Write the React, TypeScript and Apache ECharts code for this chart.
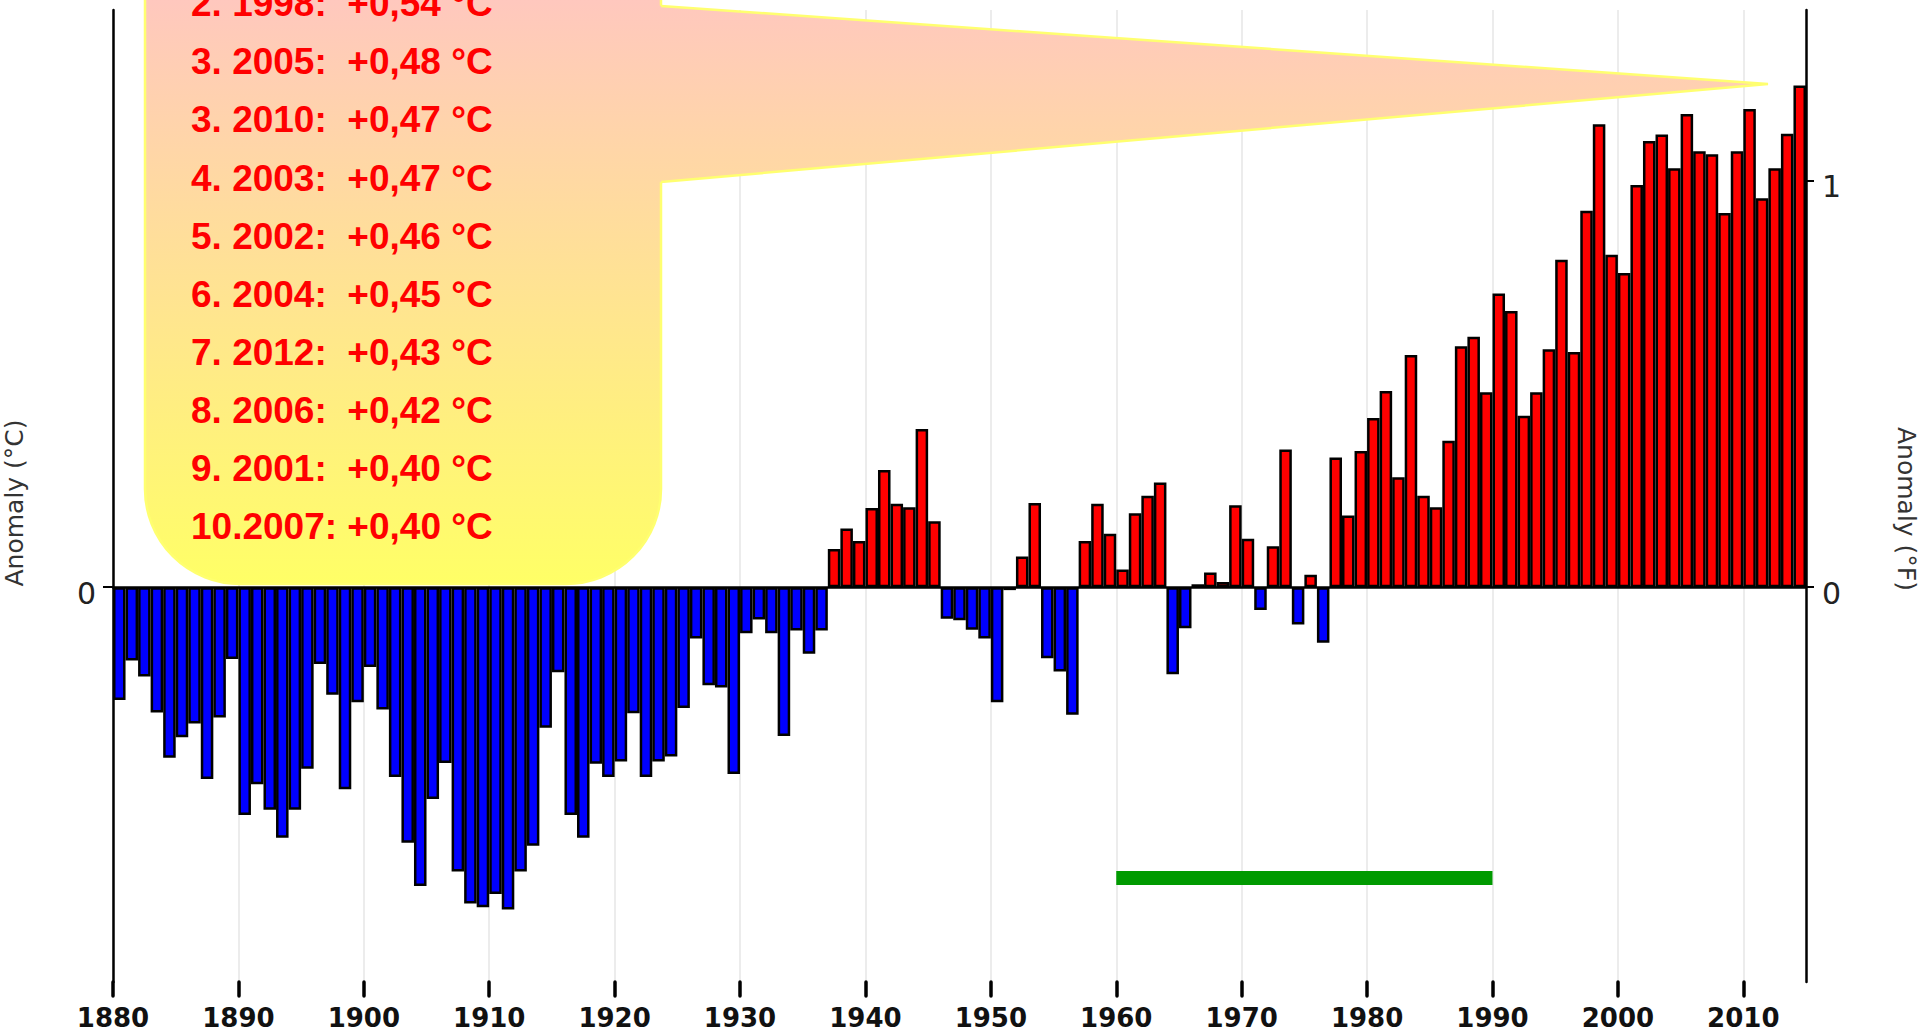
import React, { useEffect, useRef } from 'react';
import * as echarts from 'echarts';

// ---- data ----
const startYear = 1880;
// annual temperature anomaly (°C), 1880 … 2014
const anomalies: number[] = [
  -0.154, -0.100, -0.122, -0.171, -0.233, -0.205, -0.186, -0.262, -0.178, -0.098,
  -0.311, -0.269, -0.304, -0.342, -0.304, -0.248, -0.105, -0.147, -0.276, -0.157,
  -0.109, -0.167, -0.259, -0.349, -0.408, -0.289, -0.240, -0.388, -0.432, -0.437,
  -0.419, -0.440, -0.388, -0.353, -0.192, -0.116, -0.311, -0.342, -0.241, -0.259,
  -0.238, -0.172, -0.259, -0.238, -0.231, -0.165, -0.070, -0.134, -0.137, -0.255,
  -0.063, -0.044, -0.063, -0.203, -0.059, -0.091, -0.059, 0.052, 0.080, 0.063,
  0.108, 0.160, 0.114, 0.109, 0.216, 0.090, -0.043, -0.045, -0.058, -0.070,
  -0.157, -0.004, 0.042, 0.115, -0.097, -0.115, -0.174, 0.063, 0.114, 0.073,
  0.024, 0.101, 0.125, 0.143, -0.119, -0.056, 0.004, 0.020, 0.007, 0.112,
  0.066, -0.031, 0.056, 0.188, -0.051, 0.017, -0.076, 0.177, 0.098, 0.186,
  0.231, 0.268, 0.150, 0.317, 0.125, 0.109, 0.200, 0.329, 0.342, 0.266,
  0.401, 0.377, 0.234, 0.266, 0.325, 0.447, 0.321, 0.514, 0.632, 0.454,
  0.429, 0.549, 0.609, 0.618, 0.572, 0.646, 0.595, 0.591, 0.511, 0.595,
  0.653, 0.531, 0.572, 0.619, 0.685,
];
const years: string[] = anomalies.map((_, i) => String(startYear + i));
const decadeTicks: number[] = [1880, 1890, 1900, 1910, 1920, 1930, 1940, 1950, 1960, 1970, 1980, 1990, 2000, 2010];
const celsiusTicks: number[] = [0];
const fahrenheitTicks: number[] = [0, 1];
const basePeriod: number[] = [1960, 1990];
const basePeriodLevel = -0.397;
const rankings: string[] = [
  '2. 1998:  +0,54 °C',
  '3. 2005:  +0,48 °C',
  '3. 2010:  +0,47 °C',
  '4. 2003:  +0,47 °C',
  '5. 2002:  +0,46 °C',
  '6. 2004:  +0,45 °C',
  '7. 2012:  +0,43 °C',
  '8. 2006:  +0,42 °C',
  '9. 2001:  +0,40 °C',
  '10.2007: +0,40 °C',
];

const C_MIN = -0.539;
const C_MAX = 0.788;

export default function App() {
  const ref = useRef<HTMLDivElement>(null);
  useEffect(() => {
    if (!ref.current) return;
    const chart = echarts.init(ref.current, undefined, { renderer: 'svg' });

    const grad = () =>
      new echarts.graphic.LinearGradient(0, -40, 0, 584, [
        { offset: 0, color: '#FFC4C4' },
        { offset: 1, color: '#FFFF66' },
      ], true);

    const textEls = rankings.map((t, i) => ({
      type: 'text',
      x: 191,
      y: 3.7 + i * 58.1,
      z: 30,
      style: {
        text: t,
        fill: '#FF0000',
        font: 'bold 37px "Liberation Sans", Arial, sans-serif',
        textAlign: 'left',
        textVerticalAlign: 'middle',
      },
    }));

    const yLabel = {
      fontFamily: 'DejaVu Sans',
      fontSize: 30,
      color: '#222',
      verticalAlign: 'top',
      lineHeight: 12,
    };

    const option: any = {
      animation: false,
      backgroundColor: '#ffffff',
      grid: { left: 113, right: 114, top: 10, bottom: 51, containLabel: false },
      xAxis: [
        {
          type: 'category',
          data: years,
          position: 'top',
          boundaryGap: true,
          axisLine: { show: true, onZero: true, lineStyle: { color: '#000', width: 2.5 } },
          axisTick: { show: false },
          axisLabel: { show: false },
          splitLine: { show: false },
          z: 5,
        },
        {
          type: 'value',
          min: 1880,
          max: 2015,
          interval: 10,
          position: 'bottom',
          axisLine: { show: false, onZero: false },
          axisTick: {
            show: true,
            length: 14,
            customValues: decadeTicks,
            lineStyle: { color: '#000', width: 3.5, cap: 'round' },
          },
          axisLabel: {
            show: true,
            customValues: decadeTicks,
            margin: 23,
            fontFamily: 'DejaVu Sans',
            fontWeight: 'bold',
            fontSize: 26,
            color: '#111',
            formatter: (v: number) => String(v),
          },
          splitLine: { show: true, lineStyle: { color: '#e6e6e6', width: 1.5 } },
        },
      ],
      yAxis: [
        {
          type: 'value',
          min: C_MIN,
          max: C_MAX,
          position: 'left',
          axisLine: { show: true, lineStyle: { color: '#000', width: 2.5 } },
          axisTick: { show: true, length: 10, customValues: celsiusTicks, lineStyle: { color: '#000', width: 2 } },
          axisLabel: { customValues: celsiusTicks, margin: 17, ...yLabel },
          splitLine: { show: false },
        },
        {
          type: 'value',
          min: C_MIN * 1.8,
          max: C_MAX * 1.8,
          position: 'right',
          axisLine: { show: true, lineStyle: { color: '#000', width: 2.5 } },
          axisTick: { show: true, length: 8, customValues: fahrenheitTicks, lineStyle: { color: '#000', width: 2 } },
          axisLabel: { customValues: fahrenheitTicks, margin: 16, ...yLabel },
          splitLine: { show: false },
        },
      ],
      series: [
        {
          type: 'bar',
          xAxisIndex: 0,
          yAxisIndex: 0,
          data: anomalies,
          barWidth: '100%',
          barCategoryGap: '0%',
          itemStyle: {
            color: (p: any) => (p.value >= 0 ? '#FF0000' : '#0000FF'),
            borderColor: '#000',
            borderWidth: 2.5,
          },
        },
        {
          type: 'line',
          xAxisIndex: 1,
          yAxisIndex: 0,
          data: basePeriod.map((y) => [y, basePeriodLevel]),
          symbol: 'none',
          lineStyle: { color: '#009A00', width: 14, cap: 'butt' },
          z: 4,
        },
      ],
      graphic: [
        {
          type: 'rect',
          z: 20,
          shape: { x: 145, y: -200, width: 516, height: 784, r: 95 },
          style: { fill: grad(), stroke: '#FFFF70', lineWidth: 2.5 },
        },
        {
          type: 'polygon',
          z: 21,
          shape: { points: [[650, 5], [1768, 84], [650, 183]] },
          style: { fill: grad() },
        },
        {
          type: 'polyline',
          z: 22,
          shape: { points: [[661, 6], [1768, 84], [661, 182]] },
          style: { stroke: '#FFFF70', lineWidth: 2.5, fill: null },
        },
        ...textEls,
        {
          type: 'text',
          x: 14,
          y: 503,
          rotation: Math.PI / 2,
          z: 30,
          style: {
            text: 'Anomaly (°C)',
            fill: '#333',
            font: '25px "DejaVu Sans", sans-serif',
            textAlign: 'center',
            textVerticalAlign: 'middle',
          },
        },
        {
          type: 'text',
          x: 1906,
          y: 509,
          rotation: -Math.PI / 2,
          z: 30,
          style: {
            text: 'Anomaly (°F)',
            fill: '#333',
            font: '25px "DejaVu Sans", sans-serif',
            textAlign: 'center',
            textVerticalAlign: 'middle',
          },
        },
      ],
    };

    chart.setOption(option);
    return () => chart.dispose();
  }, []);

  return (
    <div
      ref={ref}
      style={{ position: 'fixed', left: 0, top: 0, width: '1920px', height: '1033px', background: '#fff' }}
    />
  );
}
